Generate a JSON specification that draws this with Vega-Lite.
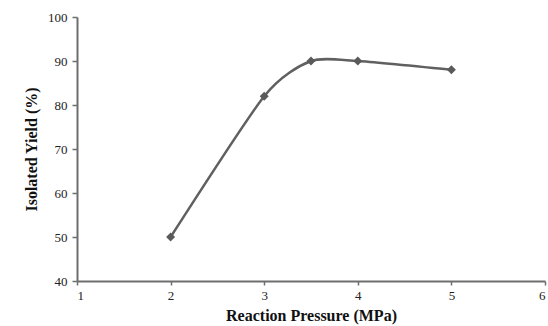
{
  "$schema": "https://vega.github.io/schema/vega-lite/v6.json",
  "width": 468,
  "height": 264,
  "autosize": {"type": "none"},
  "padding": {"left": 77, "top": 17, "right": 3, "bottom": 45},
  "background": "white",
  "config": {"view": {"stroke": null}},
  "data": {"values": [
    {"pressure": 2, "yield": 50},
    {"pressure": 3, "yield": 82},
    {"pressure": 3.5, "yield": 90},
    {"pressure": 4, "yield": 90},
    {"pressure": 5, "yield": 88}
  ]},
  "encoding": {
    "x": {"field": "pressure", "type": "quantitative",
      "scale": {"domain": [1, 6], "nice": false, "zero": false},
      "axis": {"title": "Reaction Pressure (MPa)", "values": [1,2,3,4,5,6], "grid": false,
        "domainColor": "#6e6e6e", "domainWidth": 2, "tickColor": "#6e6e6e", "tickWidth": 1.5, "tickSize": 4,
        "labelFont": "Liberation Serif", "labelFontSize": 13, "labelColor": "#222", "labelPadding": 4,
        "titleFont": "Liberation Serif", "titleFontSize": 16, "titleFontWeight": "bold", "titleColor": "#111", "titlePadding": 5}},
    "y": {"field": "yield", "type": "quantitative",
      "scale": {"domain": [40, 100], "nice": false, "zero": false},
      "axis": {"title": "Isolated Yield (%)", "values": [40,50,60,70,80,90,100], "grid": false,
        "domainColor": "#6e6e6e", "domainWidth": 2, "tickColor": "#6e6e6e", "tickWidth": 1.5, "tickSize": 5,
        "labelFont": "Liberation Serif", "labelFontSize": 13, "labelColor": "#222", "labelPadding": 5,
        "titleFont": "Liberation Serif", "titleFontSize": 16, "titleFontWeight": "bold", "titleColor": "#111", "titlePadding": 8}}
  },
  "layer": [
    {"mark": {"type": "line", "interpolate": "cardinal", "tension": 0.3, "color": "#606060", "strokeWidth": 2.5}},
    {"mark": {"type": "point", "shape": "diamond", "filled": true, "color": "#5a5a5a", "size": 80, "opacity": 1}}
  ]
}
